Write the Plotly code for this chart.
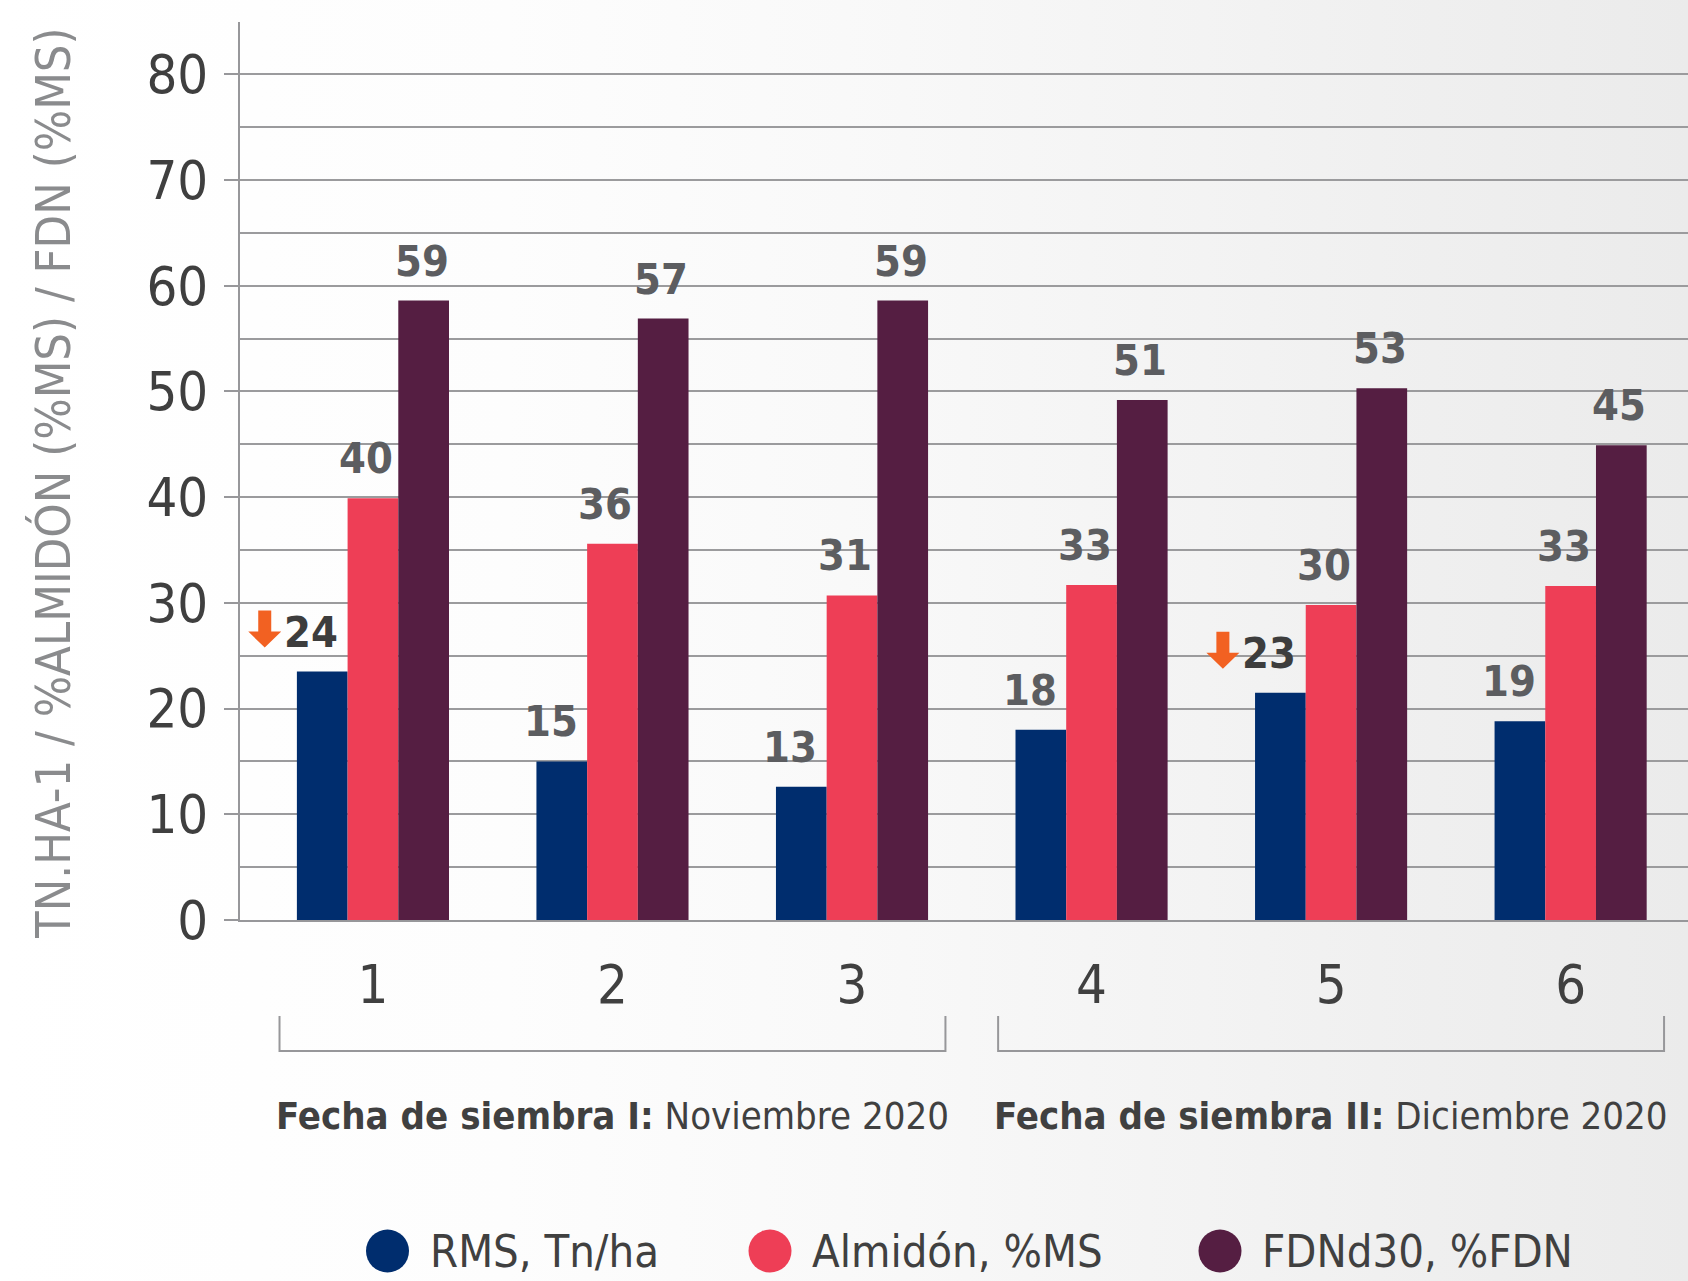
import base64
import plotly.graph_objects as go

# ---------------- data ----------------
categories = ["1", "2", "3", "4", "5", "6"]
series_names = ["RMS, Tn/ha", "Almidón, %MS", "FDNd30, %FDN"]
rms = [23.5, 15.0, 12.6, 18.0, 21.5, 18.8]
almidon = [39.9, 35.6, 30.7, 31.7, 29.8, 31.6]
fdn = [58.6, 56.9, 58.6, 49.2, 50.3, 44.9]
rms_labels = ["24", "15", "13", "18", "23", "19"]
almidon_labels = ["40", "36", "31", "33", "30", "33"]
fdn_labels = ["59", "57", "59", "51", "53", "45"]
rms_decrease = [True, False, False, False, True, False]
group_titles = ["Fecha de siembra I:", "Fecha de siembra II:"]
group_dates = ["Noviembre 2020", "Diciembre 2020"]
group_members = [["1", "2", "3"], ["4", "5", "6"]]
y_title = "TN.HA-1 / %ALMIDÓN (%MS) / FDN (%MS)"

# ---------------- style ----------------
colors = ["#002d6e", "#ee3e56", "#551e42"]
W, H = 1688, 1281
ML, MR, MT, MB = 240, 0, 22, 361
PW, PH = W - ML - MR, H - MT - MB
BARGAP = 0.365
FONT = "DejaVu Sans Condensed, Liberation Sans Narrow, Roboto, sans-serif"
GRID = "#9b9b9d"
AXIS = "#97979a"


def pxx(x):
    return (x - ML) / PW


def pxy(y):
    return (H - MB - y) / PH


series = [rms, almidon, fdn]
labels = [rms_labels, almidon_labels, fdn_labels]

fig = go.Figure()
for name, vals, col in zip(series_names, series, colors):
    fig.add_trace(go.Bar(x=categories, y=vals, name=name, marker_color=col,
                         marker_line_width=0, showlegend=False, hoverinfo="skip"))

bw = (1 - BARGAP) / 3
annotations = []
shapes = []
label_shift = [-11, -7, -2]
for s, (vals, labs) in enumerate(zip(series, labels)):
    off = (s - 1) * bw
    for i, (v, t) in enumerate(zip(vals, labs)):
        dark = (s == 0 and rms_decrease[i])
        annotations.append(dict(
            x=i + off, y=v, xref="x", yref="y", text=t, showarrow=False,
            xanchor="center", yanchor="bottom", yshift=13, xshift=label_shift[s],
            font=dict(family=FONT, size=43, color="#3d3d3d" if dark else "#5c5d60", weight="bold")))
        if dark:
            shapes.append(dict(
                type="path", xref="x", yref="y", xsizemode="pixel", ysizemode="pixel",
                xanchor=i + off, yanchor=v,
                path="M -64,61 L -51,61 L -51,40 L -41,40 L -57.5,24 L -74,40 L -64,40 Z",
                fillcolor="#f26122", line=dict(width=0)))

# group brackets and titles
for title, date, members in zip(group_titles, group_dates, group_members):
    i0 = categories.index(members[0]) - 0.39
    i1 = categories.index(members[-1]) + 0.39
    yt, yb = pxy(1016), pxy(1051)
    shapes.append(dict(type="path", xref="x", yref="paper",
                       path=f"M {i0},{yt} L {i0},{yb} L {i1},{yb} L {i1},{yt}",
                       line=dict(color=AXIS, width=2)))
    annotations.append(dict(
        x=(categories.index(members[0]) + categories.index(members[-1])) / 2, y=pxy(1116),
        xref="x", yref="paper", showarrow=False, xanchor="center", yanchor="middle",
        text=f"<b>{title}</b> {date}", font=dict(family=FONT, size=38, color="#404040")))

# legend (large circles)
legend_x = [387.5, 770, 1220]
for name, col, cx in zip(series_names, colors, legend_x):
    shapes.append(dict(type="circle", xref="paper", yref="paper",
                       xsizemode="pixel", ysizemode="pixel",
                       xanchor=pxx(cx), yanchor=pxy(1251),
                       x0=-21.5, x1=21.5, y0=-21.5, y1=21.5,
                       fillcolor=col, line=dict(width=0)))
    annotations.append(dict(x=pxx(cx + 40), y=pxy(1251), xref="paper", yref="paper",
                            showarrow=False, xanchor="left", yanchor="middle", text=name,
                            font=dict(family=FONT, size=45, color="#404040")))

# y-axis title
annotations.append(dict(x=pxx(53), y=pxy(483), xref="paper", yref="paper", showarrow=False,
                        xanchor="center", yanchor="middle", textangle=-90, text=y_title,
                        font=dict(family=FONT, size=48.5, color="#8a8b8d")))

# background gradient
svg = (f"<svg xmlns='http://www.w3.org/2000/svg' width='{W}' height='{H}' preserveAspectRatio='none'>"
       "<defs><linearGradient id='g' x1='0' x2='1' y1='0' y2='0'>"
       "<stop offset='0' stop-color='#ffffff'/>"
       "<stop offset='0.3' stop-color='#fdfdfd'/>"
       "<stop offset='0.5' stop-color='#f9f9f9'/>"
       "<stop offset='0.68' stop-color='#f4f4f4'/>"
       "<stop offset='0.85' stop-color='#efefef'/>"
       "<stop offset='1' stop-color='#ebebeb'/>"
       "</linearGradient></defs>"
       f"<rect width='{W}' height='{H}' fill='url(#g)'/></svg>")
src = "data:image/svg+xml;base64," + base64.b64encode(svg.encode()).decode()

fig.update_layout(
    width=W, height=H,
    margin=dict(l=ML, r=MR, t=MT, b=MB, pad=0),
    paper_bgcolor="#ffffff", plot_bgcolor="rgba(0,0,0,0)",
    barmode="group", bargap=BARGAP, bargroupgap=0,
    font=dict(family=FONT, color="#404040"),
    images=[dict(source=src, xref="paper", yref="paper", x=pxx(0), y=pxy(0),
                 sizex=W / PW, sizey=H / PH, xanchor="left", yanchor="top",
                 sizing="stretch", layer="below")],
    annotations=annotations, shapes=shapes,
    xaxis=dict(type="category", categoryorder="array", categoryarray=categories,
               range=[-0.555, 5.49], showline=True, linecolor=AXIS, linewidth=2,
               ticks="", showgrid=False, zeroline=False, ticklabelstandoff=16,
               tickfont=dict(family=FONT, size=54, color="#404040")),
    yaxis=dict(range=[0, 84.95], tick0=0, dtick=10, showgrid=True, gridcolor=GRID, gridwidth=2,
               showline=True, linecolor=AXIS, linewidth=2, ticks="outside", ticklen=14,
               tickwidth=2, tickcolor=AXIS, zeroline=False, ticklabelstandoff=5,
               tickfont=dict(family=FONT, size=54, color="#3f3f3f"),
               minor=dict(tick0=5, dtick=10, showgrid=True, gridcolor=GRID, gridwidth=2, ticks="")),
)

fig.write_html("out.html", config={"displayModeBar": False},
               post_script="document.body.style.margin='0';document.body.style.overflow='hidden';")
